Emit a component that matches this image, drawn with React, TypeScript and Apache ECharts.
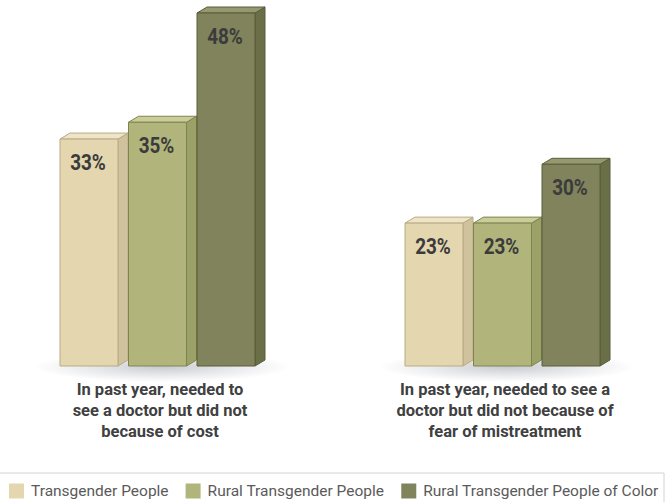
import React, { useEffect, useRef } from "react";
import * as echarts from "echarts";

const categories = [
  "In past year, needed to\nsee a doctor but did not\nbecause of cost",
  "In past year, needed to see a\ndoctor but did not because of\nfear of mistreatment",
];
const seriesNames = [
  "Transgender People",
  "Rural Transgender People",
  "Rural Transgender People of Color",
];
const transgenderPeople = [33, 23];
const ruralTransgenderPeople = [35, 23];
const ruralTransgenderPeopleOfColor = [48, 30];

const palettes = [
  { front: "#E4D6AF", side: "#CFC29D", top: "#EEE5C9", border: "#B8AB84" },
  { front: "#B2B57B", side: "#9CA167", top: "#CACD98", border: "#7E8450" },
  { front: "#80835B", side: "#6B6F48", top: "#969970", border: "#5A5D3A" },
];

const FONT = "Roboto, 'Noto Sans', sans-serif";
const Y_MIN = 6;

export default function App() {
  const ref = useRef<HTMLDivElement>(null);
  useEffect(() => {
    if (!ref.current) return;
    const chart = echarts.init(ref.current, null, { renderer: "svg" });
    const allValues = [transgenderPeople, ruralTransgenderPeople, ruralTransgenderPeopleOfColor];
    const barW = 58;
    const step = 68.5;
    const dx = 10;
    const dy = 6;

    const makeBarSeries = (idx: number) => ({
      type: "custom",
      name: seriesNames[idx],
      itemStyle: { color: palettes[idx].front },
      data: allValues[idx].map((v, i) => [i, v]),
      z: 3,
      clip: false,
      renderItem: (params: any, api: any) => {
        const c = api.value(0);
        const v = api.value(1);
        const top = api.coord([c, v]);
        const bot = api.coord([c, Y_MIN]);
        const x0 = top[0] - 100 + idx * step;
        const x1 = x0 + barW;
        const yT = top[1];
        const yB = bot[1];
        const p = palettes[idx];
        return {
          type: "group",
          children: [
            {
              type: "polygon",
              shape: { points: [[x1, yT], [x1 + dx, yT - dy], [x1 + dx, yB - dy], [x1, yB]] },
              style: { fill: p.side, stroke: p.border, lineWidth: 1 },
            },
            {
              type: "polygon",
              shape: { points: [[x0, yT], [x0 + dx, yT - dy], [x1 + dx, yT - dy], [x1, yT]] },
              style: { fill: p.top, stroke: p.border, lineWidth: 1 },
            },
            {
              type: "rect",
              shape: { x: x0, y: yT, width: barW, height: yB - yT },
              style: { fill: p.front, stroke: p.border, lineWidth: 1 },
            },
            {
              type: "text",
              x: x0 + barW / 2 - 1,
              y: yT + 23,
              scaleX: 0.86,
              style: {
                x: 0,
                y: 0,
                text: v + "%",
                fill: "#3b3b3b",
                font: "bold 22px " + FONT,
                align: "center",
                verticalAlign: "middle",
              },
            },
          ],
        };
      },
    });

    const option: any = {
      animation: false,
      backgroundColor: "#ffffff",
      grid: { left: 160, right: 161, top: 13, bottom: 136, containLabel: false },
      xAxis: {
        type: "category",
        data: categories,
        boundaryGap: false,
        axisLine: { show: false },
        axisTick: { show: false },
        splitLine: { show: false },
        axisLabel: {
          interval: 0,
          margin: 13,
          color: "#404040",
          fontFamily: FONT,
          fontWeight: "bold",
          fontSize: 16.5,
          lineHeight: 21,
          align: "center",
        },
      },
      yAxis: { type: "value", min: Y_MIN, max: 48, show: false },
      legend: {
        data: seriesNames,
        left: 9,
        top: 483,
        width: 656,
        padding: 0,
        icon: "rect",
        itemWidth: 15,
        itemHeight: 15,
        itemGap: 17,
        textStyle: { color: "#5a5a5a", fontFamily: FONT, fontSize: 15.5, padding: [0, 0, 0, 2] },
      },
      graphic: [
        {
          type: "rect",
          shape: { x: -1, y: 473, width: 665, height: 40 },
          style: { fill: "none", stroke: "#d2d2d2", lineWidth: 1 },
          silent: true,
        },
      ],
      series: [
        {
          type: "custom",
          name: "shadow",
          data: categories.map((_, i) => [i, Y_MIN]),
          z: 1,
          clip: false,
          silent: true,
          renderItem: (params: any, api: any) => {
            const pt = api.coord([api.value(0), api.value(1)]);
            return {
              type: "ellipse",
              shape: { cx: pt[0] + 2, cy: pt[1] + 1, rx: 128, ry: 15 },
              style: {
                fill: new echarts.graphic.RadialGradient(0.5, 0.5, 0.5, [
                  { offset: 0, color: "rgba(60,70,90,0.28)" },
                  { offset: 0.55, color: "rgba(60,70,90,0.12)" },
                  { offset: 1, color: "rgba(60,70,90,0)" },
                ]),
              },
            };
          },
        },
        makeBarSeries(0),
        makeBarSeries(1),
        makeBarSeries(2),
      ],
    };
    chart.setOption(option);
    return () => chart.dispose();
  }, []);
  return <div ref={ref} style={{ width: 666, height: 502, position: "absolute", left: 0, top: 0 }} />;
}
